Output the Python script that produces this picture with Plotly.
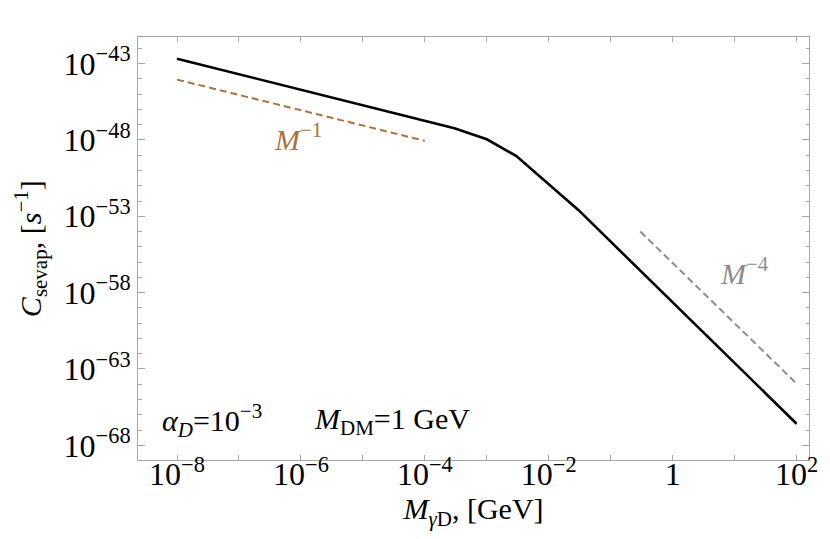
import plotly.graph_objects as go

# Evaporation rate vs dark photon mass, alpha_D = 1e-3, M_DM = 1 GeV
mass = [1e-8, 1e-4, 3e-4, 1e-3, 3e-3, 3e-2, 1e2]
rate = [2.1e-43, 1.8e-47, 5.8e-48, 1.1e-48, 8.7e-50, 2.6e-53, 2.6e-67]

# reference slopes
m1_x = [1e-8, 1e-4]
m1_y = [8.9e-45, 8.7e-49]
m4_x = [0.3, 1e2]
m4_y = [1.0e-54, 1.1e-64]

x_major = [-8, -6, -4, -2, 0, 2]
x_labels = ['10<sup>\u22128</sup>', '10<sup>\u22126</sup>', '10<sup>\u22124</sup>',
            '10<sup>\u22122</sup>', '1', '10<sup>2</sup>']
y_major = [-43, -48, -53, -58, -63, -68]
y_labels = ['10<sup>\u2212%d</sup>' % (-k) for k in y_major]

font = 'Liberation Serif'
frame = '#a6a6a6'
brown = '#a8733c'
grey = '#8c8c8c'

fig = go.Figure()
fig.add_trace(go.Scatter(x=mass, y=rate, mode='lines',
                         line=dict(color='black', width=2.6)))
fig.add_trace(go.Scatter(x=m1_x, y=m1_y, mode='lines',
                         line=dict(color=brown, width=2, dash='7px,4px')))
fig.add_trace(go.Scatter(x=m4_x, y=m4_y, mode='lines',
                         line=dict(color=grey, width=2, dash='7px,4px')))

notes = [
    (-6.05, -47.8, '<i>M</i><sup>\u22121</sup>', brown),
    (1.16, -56.6, '<i>M</i><sup>\u22124</sup>', grey),
    (-7.43, -66.4, '<i>\u03b1</i><sub><i>D</i></sub>=10<sup>\u22123</sup>', 'black'),
    (-4.53, -66.4, '<i>M</i><sub>DM</sub>=1 GeV', 'black'),
]
for nx, ny, txt, col in notes:
    fig.add_annotation(x=nx, y=ny, xref='x', yref='y', text=txt, showarrow=False,
                       font=dict(family=font, size=30, color=col))

# y title as a rotated annotation so it can sit close to the page edge
fig.add_annotation(x=-0.16, y=0.5, xref='paper', yref='paper', textangle=-90,
                   text='<i>C</i><sub>sevap</sub>, [<i>s</i><sup>\u22121</sup>]',
                   showarrow=False, xanchor='center', yanchor='middle',
                   font=dict(family=font, size=30, color='black'))

# page body has an 8px margin, so the figure is 8px smaller than the window
fig.update_layout(
    width=822, height=531,
    margin=dict(l=130, r=15, t=29, b=79),
    paper_bgcolor='white', plot_bgcolor='white',
    showlegend=False,
    font=dict(family=font, size=32, color='black'),
)
fig.update_xaxes(
    type='log', range=[-8.63, 2.2],
    tickvals=[10.0 ** k for k in x_major], ticktext=x_labels,
    ticks='inside', ticklen=5, tickcolor=frame, tickwidth=1,
    minor=dict(tickvals=[10.0 ** k for k in range(-9, 3)], ticks='inside',
               ticklen=5, tickcolor=frame, showgrid=False),
    showline=True, linecolor=frame, linewidth=1, mirror='allticks',
    showgrid=False, zeroline=False,
    ticklabelstandoff=-14,
    tickfont=dict(family=font, size=32),
    title=dict(text='<i>M</i><sub><i>\u03b3</i>D</sub>, [GeV]',
               font=dict(family=font, size=30), standoff=3),
)
fig.update_yaxes(
    type='log', range=[-68.96, -41.26],
    tickvals=[10.0 ** k for k in y_major], ticktext=y_labels,
    ticks='inside', ticklen=7, tickcolor=frame, tickwidth=1,
    minor=dict(tickvals=[10.0 ** k for k in range(-69, -41)], ticks='inside',
               ticklen=3.5, tickcolor=frame, showgrid=False),
    showline=True, linecolor=frame, linewidth=1, mirror='allticks',
    showgrid=False, zeroline=False,
    tickfont=dict(family=font, size=32),
)

fig.write_html('out.html')
